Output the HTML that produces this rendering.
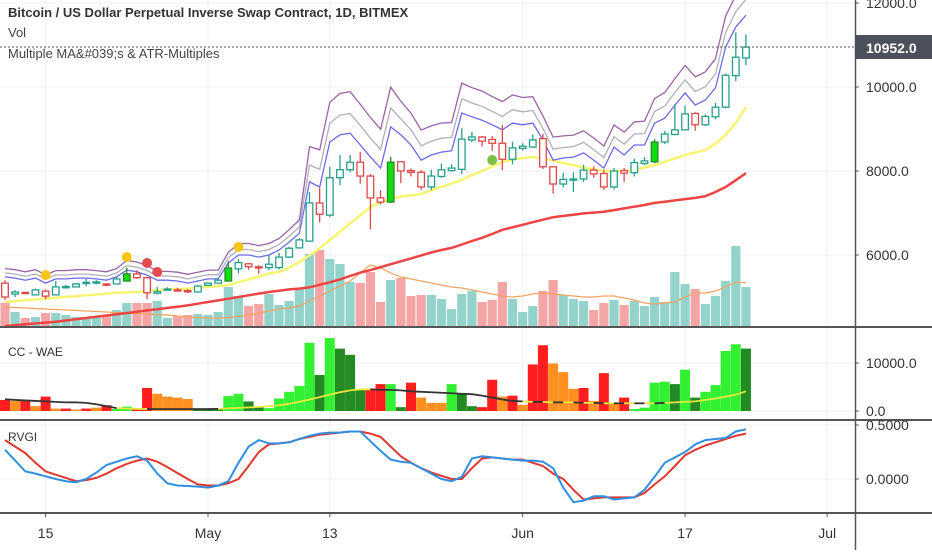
<!DOCTYPE html>
<html><head><meta charset="utf-8"><style>
html,body{margin:0;padding:0;background:#fff;}
body{width:932px;height:550px;overflow:hidden;font-family:"Liberation Sans",sans-serif;}
svg text{font-family:"Liberation Sans",sans-serif;}
</style></head><body>
<svg id="chart" width="932" height="550" viewBox="0 0 932 550" xmlns="http://www.w3.org/2000/svg">
<g id="grid"></g>
<g id="main"></g>
<g id="wae"></g>
<g id="rvgi"></g>
<g id="axes"></g>
<text x="8" y="17" font-size="13" font-weight="bold" fill="#333">Bitcoin / US Dollar Perpetual Inverse Swap Contract, 1D, BITMEX</text>
<text x="8" y="37" font-size="13" fill="#444">Vol</text>
<text x="8" y="58" font-size="13" fill="#444">Multiple MA&amp;#039;s &amp; ATR-Multiples</text>
<text x="8" y="356" font-size="12" fill="#333">CC - WAE</text>
<text x="8" y="441" font-size="12" fill="#333">RVGI</text>
</svg>
<script>
// ---- data ----
const opens  = [5330,5070,5110,5050,5140,5050,5220,5240,5340,5330,5310,5310,5380,5550,5460,5090,5170,5170,5150,5120,5280,5330,5380,5670,5790,5720,5700,5700,5950,6170,6330,7240,6950,7840,8030,8210,7880,7360,7260,8220,8010,7970,7620,7870,8010,8040,8740,8810,8750,8660,8280,8540,8570,8770,8100,7690,7790,7810,8020,7940,7620,8010,7960,8180,8220,8690,8870,8980,9370,9100,9290,9520,10270,10690];
const highs  = [5400,5160,5120,5200,5180,5380,5290,5340,5430,5400,5330,5470,5700,5640,5480,5240,5230,5220,5190,5290,5350,5430,5850,5910,5810,5760,6000,6050,6200,6400,7500,7600,8100,8380,8380,8450,7930,7540,8340,8230,8060,8020,8030,8180,8160,9020,8930,8830,8830,9090,8700,8660,8870,8880,8100,7960,7970,8150,8110,8030,8070,8070,8290,8330,8760,8950,9600,9560,9400,9350,9620,10320,11300,11250];
const lows   = [4930,5000,5080,5040,4950,5040,5200,5230,5260,5300,5250,5300,5370,5430,4950,5060,5150,5130,5090,5100,5270,5320,5370,5560,5650,5550,5640,5660,5930,6150,6330,6780,6900,7660,7970,7700,6610,7210,7240,7710,7870,7550,7550,7840,7990,7930,8690,8580,8480,8020,8160,8490,8550,8050,7460,7610,7500,7740,7840,7550,7560,7740,7870,8140,8190,8640,8850,8970,8960,9070,9230,9490,10140,10520];
const closes = [5000,5120,5090,5170,5020,5240,5250,5310,5350,5360,5290,5430,5550,5460,5100,5130,5190,5150,5120,5260,5330,5400,5690,5820,5720,5700,5780,5950,6160,6360,7240,6970,7840,8030,8210,7880,7360,7260,8210,8000,7970,7620,7880,8030,8070,8760,8810,8710,8660,8280,8550,8590,8740,8100,7690,7800,7810,8020,7930,7620,8000,7950,8200,8240,8690,8880,8980,9360,9100,9300,9520,10280,10710,10950];
const highlightCandles = [12,22,38,64];
const volumes = [2300,1400,800,900,1300,1300,1100,900,900,900,1100,1600,2300,2300,2300,2500,800,1000,1100,1200,1100,1400,3900,3000,2000,2200,3200,2100,2500,3800,7200,7600,6700,6200,4400,4300,5400,2400,4600,4800,3000,3100,3100,2700,1700,3200,3500,2400,2600,4400,2700,1400,2000,3500,4600,3100,2700,2500,1600,2300,2600,2100,2500,2000,2900,2400,5400,4200,3700,2200,3000,4500,8000,3900];
const volumeMA = [1900,1850,1800,1750,1700,1650,1600,1550,1500,1450,1400,1350,1300,1250,1200,1150,1100,1000,900,850,800,800,850,950,1100,1300,1500,1700,1800,2000,2500,3000,3500,4000,4500,5300,6100,5800,5300,4900,4700,4500,4300,4100,3900,3800,3600,3400,3200,3000,2900,3000,3200,3300,3200,3100,3000,2900,2900,3000,3000,2800,2600,2300,2200,2300,2400,2900,3300,3300,3500,3900,4400,4300];
const yellowMA = [4880,4900,4920,4940,4960,4980,5000,5020,5040,5060,5080,5100,5110,5119,5140,5160,5180,5190,5200,5220,5240,5260,5285,5350,5420,5490,5560,5595,5700,5833,5990,6160,6357,6550,6750,6950,7142,7250,7330,7390,7420,7452,7540,7620,7700,7785,7900,8000,8110,8214,8270,8310,8333,8300,8250,8190,8140,8080,8040,8000,7990,8000,8024,8080,8143,8220,8300,8380,8440,8500,8650,8857,9150,9524];
const redMA = [4310,4330,4350,4370,4390,4410,4440,4470,4500,4530,4560,4590,4620,4650,4680,4710,4740,4770,4800,4840,4880,4920,4960,5000,5040,5080,5120,5150,5180,5200,5230,5290,5350,5420,5500,5580,5640,5710,5780,5850,5920,5990,6060,6120,6170,6250,6330,6410,6500,6600,6660,6720,6780,6840,6900,6930,6960,6990,7010,7030,7070,7110,7150,7190,7240,7270,7300,7330,7360,7400,7500,7620,7780,7950];
const bandLow = [5480,5450,5400,5450,5330,5430,5430,5450,5450,5430,5400,5480,5640,5600,5520,5400,5400,5380,5330,5380,5430,5430,5810,6000,6000,5950,6000,6120,6310,6520,7740,7620,8690,8860,8900,8620,8330,8070,9050,8860,8620,8260,8380,8450,8480,9380,9290,9210,9100,8980,9140,9100,9140,8740,8260,8310,8330,8430,8260,8070,8570,8380,8620,8620,9140,9260,9570,9860,9570,9690,9980,10950,11430,11710];
const bandGap = [95,95,95,95,95,95,95,95,95,95,95,95,110,110,110,100,100,100,100,100,100,100,120,130,130,130,130,130,140,150,400,420,450,470,470,460,450,440,450,380,360,340,330,330,320,340,330,330,320,320,320,310,300,270,260,250,250,250,250,250,250,260,260,270,280,290,300,310,320,320,330,350,360,380];
const markerIdx = [4,12,23,14,15,48];
const markerPrice = [5524,5952,6190,5809,5595,8261];
const markerColor = ['#f5c518','#f5c518','#f5c518','#e5484d','#e5484d','#7bc043'];
const waeValues = [2300,2100,2100,1000,3000,500,500,300,500,700,1200,400,900,400,4800,3600,3000,2800,2500,400,400,400,3100,3600,2000,900,600,2600,4000,5200,14200,7500,15200,13000,11700,4400,4700,5600,5600,800,5900,2800,1700,1700,5600,3700,1000,800,6500,3000,3200,1300,9700,13700,9900,8100,4600,4800,2100,7900,1600,2800,400,700,5900,6100,5600,8600,2800,4000,5400,12500,13900,13000];
const waeColors = ['r','o','r','o','r','o','r','o','r','o','r','g','g','r','r','o','o','o','o','d','d','d','g','g','d','d','g','g','g','g','g','d','g','d','d','d','r','r','g','d','r','o','o','o','g','d','d','r','r','o','r','o','r','r','o','o','o','r','o','r','o','r','g','g','g','g','d','g','d','g','g','g','g','d'];
const deadZone = [2450,2300,2200,2100,2000,1900,1800,1800,1700,1400,1000,600,500,450,400,400,400,400,400,400,400,450,550,650,750,850,1000,1200,1500,1900,2400,2900,3400,3900,4300,4500,4500,4400,4400,4300,4100,4000,3900,3800,3700,3600,3500,3200,2800,2400,2100,2000,1900,1900,1800,1800,1800,1700,1700,1600,1600,1600,1600,1600,1600,1700,1800,1900,2000,2300,2600,3000,3400,4100];
const deadZoneTone = ['k','k','k','k','k','k','k','k','k','k','k','y','y','y','k','k','k','k','k','k','k','y','y','y','y','y','y','y','y','y','y','y','y','y','y','y','k','k','k','k','k','k','k','k','k','k','k','k','k','k','k','y','k','y','k','y','k','y','k','y','k','y','k','y','k','y','y','y','y','y','y','y','y','y'];
const rvgiFast = [.27,.17,.07,.05,.025,0,-.02,-.03,0,.06,.13,.16,.19,.21,.17,.05,-.04,-.06,-.065,-.07,-.08,-.06,-.02,.15,.3,.36,.33,.33,.34,.37,.40,.42,.43,.43,.44,.44,.35,.26,.18,.16,.15,.1,.05,0,-.02,.02,.19,.21,.2,.19,.18,.17,.17,.16,.1,-.08,-.215,-.2,-.16,-.16,-.19,-.18,-.17,-.1,.02,.15,.2,.25,.32,.36,.37,.38,.44,.46];
const rvgiSignal = [.36,.3,.24,.15,.07,.04,.01,-.02,-.01,.01,.05,.1,.14,.17,.19,.16,.11,.055,0,-.05,-.06,-.06,-.04,0,.12,.25,.32,.33,.34,.37,.39,.41,.42,.43,.44,.44,.42,.39,.3,.21,.15,.1,.06,.03,0,0,.1,.19,.2,.19,.18,.18,.15,.12,.05,0,-.1,-.19,-.18,-.17,-.17,-.17,-.17,-.13,-.05,.025,.12,.22,.27,.31,.34,.37,.4,.42];
const priceTicks = [12000,10000,8000,6000];
const waeTicks = [10000,0];
const rvgiTicks = [0.5,0];
const dateTickIdx = [4,20,32,51,67,81];
const dateTickLabels = ['15','May','13','Jun','17','Jul'];
const lastPrice = 10952;

// ---- scales ----
const NS='http://www.w3.org/2000/svg';
const xs = i => 5 + i*10.15;
const yP = p => 87 + (10000-p)*0.042;
const yV = v => 326 - v*0.01;
const yW = v => 411 - v*0.0048;
const yR = v => 479 - v*108;
const PW = 855;
function mk(tag, attrs, parent){const e=document.createElementNS(NS,tag);for(const k in attrs)e.setAttribute(k,attrs[k]);parent.appendChild(e);return e;}
const G=document.getElementById('grid'),M=document.getElementById('main'),W=document.getElementById('wae'),R=document.getElementById('rvgi'),A=document.getElementById('axes');

// grid
dateTickIdx.forEach(i=>{const l=mk('line',{x1:xs(i),x2:xs(i),y1:0,y2:513,stroke:'#eef0f5','stroke-width':1},G);

});
priceTicks.forEach(p=>{const l=mk('line',{x1:0,x2:PW,y1:yP(p),y2:yP(p),stroke:'#eef0f5'},G);

});
waeTicks.forEach(v=>{const l=mk('line',{x1:0,x2:PW,y1:yW(v),y2:yW(v),stroke:'#eef0f5'},G);

});
rvgiTicks.forEach(v=>{const l=mk('line',{x1:0,x2:PW,y1:yR(v),y2:yR(v),stroke:'#eef0f5'},G);

});

// volume
volumes.forEach((v,i)=>{const up=closes[i]>=opens[i];const r=mk('rect',{x:xs(i)-4.6,y:yV(v),width:9.2,height:326-yV(v),fill:up?'#93d3cb':'#f4a6a6'},M);

});
function poly(arr,f,attrs,parent,name){const pts=arr.map((v,i)=>xs(i).toFixed(1)+','+f(v).toFixed(1)).join(' ');const e=mk('polyline',Object.assign({points:pts,fill:'none'},attrs),parent);

return e;}
poly(volumeMA,yV,{stroke:'#f4a460','stroke-width':1.2},M,'volume-ma-line');
poly(redMA,yP,{stroke:'#ee4444','stroke-width':2.5},M,'slow-ma-line');
poly(yellowMA,yP,{stroke:'#f6f570','stroke-width':2.5},M,'fast-ma-line');
poly(bandLow,yP,{stroke:'#6b6bea','stroke-width':1.3},M,'atr-band-1');
poly(bandLow.map((v,i)=>v+bandGap[i]),yP,{stroke:'#b0b0b8','stroke-width':1.3},M,'atr-band-2');
poly(bandLow.map((v,i)=>v+bandGap[i]*2.1),yP,{stroke:'#9a64a8','stroke-width':1.3},M,'atr-band-3');

// candles
opens.forEach((o,i)=>{const c=closes[i];const up=c>=o;const hl=highlightCandles.includes(i);
const col=hl?'#2a8a2a':(up?'#26a08e':'#e04848');const x=xs(i);
const top=yP(Math.max(o,c)),bot=yP(Math.min(o,c));
const g=mk('g',{},M);


mk('line',{x1:x,x2:x,y1:yP(highs[i]),y2:top,stroke:col,'stroke-width':1.3},g);
mk('line',{x1:x,x2:x,y1:bot,y2:yP(lows[i]),stroke:col,'stroke-width':1.3},g);
mk('rect',{x:x-3.3,y:top,width:6.6,height:Math.max(bot-top,1.2),fill:hl?'#11dd11':'#fff',stroke:col,'stroke-width':1.3},g);});

markerIdx.forEach((idx,k)=>{const c=mk('circle',{cx:xs(idx),cy:yP(markerPrice[k]),r:5,fill:markerColor[k]},M);

});

// last price line
const lp=mk('line',{x1:0,x2:PW,y1:yP(lastPrice),y2:yP(lastPrice),stroke:'#555','stroke-dasharray':'2,2','stroke-width':1},M);



// WAE
const wcol={r:'#ff1f1f',o:'#ff9020',g:'#33f033',d:'#228b22'};
waeValues.forEach((v,i)=>{const r=mk('rect',{x:xs(i)-5,y:yW(v),width:10,height:411-yW(v),fill:wcol[waeColors[i]]},W);

});
for(let i=0;i<deadZone.length-1;i++){const s=mk('line',{x1:xs(i),y1:yW(deadZone[i]),x2:xs(i+1),y2:yW(deadZone[i+1]),stroke:deadZoneTone[i]==='y'?'#e8e840':'#333','stroke-width':1.8},W);

}

// RVGI
poly(rvgiSignal,yR,{stroke:'#e0382e','stroke-width':2},R,'rvgi-signal-line');
poly(rvgiFast,yR,{stroke:'#2f8fe0','stroke-width':2},R,'rvgi-line');

// axes & separators
[[327,2],[420,2],[513,2]].forEach(([y,w])=>{const l=mk('line',{x1:0,x2:932,y1:y,y2:y,stroke:'#555',"stroke-width":w},A);

});
const ax=mk('line',{x1:PW+0.5,x2:PW+0.5,y1:0,y2:550,stroke:'#555','stroke-width':1.5},A);


function lab(x,y,txt,name,anchor){const t=mk('text',{x:x,y:y,'font-size':14,fill:'#333','text-anchor':anchor||'start'},A);t.textContent=txt;

return t;}
priceTicks.forEach(p=>{mk('line',{x1:PW,x2:PW+4,y1:yP(p),y2:yP(p),stroke:'#555'},A);lab(866,yP(p)+5,p.toFixed(1),'price-tick-label');});
waeTicks.forEach(v=>{mk('line',{x1:PW,x2:PW+4,y1:yW(v),y2:yW(v),stroke:'#555'},A);lab(866,yW(v)+5,v.toFixed(1),'wae-tick-label');});
rvgiTicks.forEach(v=>{mk('line',{x1:PW,x2:PW+4,y1:yR(v),y2:yR(v),stroke:'#555'},A);lab(866,yR(v)+5,v.toFixed(4),'rvgi-tick-label');});
const box=mk('rect',{x:PW,y:yP(lastPrice)-12,width:77,height:24,fill:'#4c4f5c'},A);


const lt=lab(866,yP(lastPrice)+6,lastPrice.toFixed(1),'last-price-label');lt.setAttribute('fill','#fff');lt.setAttribute('font-weight','bold');
dateTickIdx.forEach((i,k)=>{mk('line',{x1:xs(i),x2:xs(i),y1:513,y2:517,stroke:'#555'},A);lab(xs(i),538,dateTickLabels[k],'date-tick-label','middle');});
</script>
</body></html>
